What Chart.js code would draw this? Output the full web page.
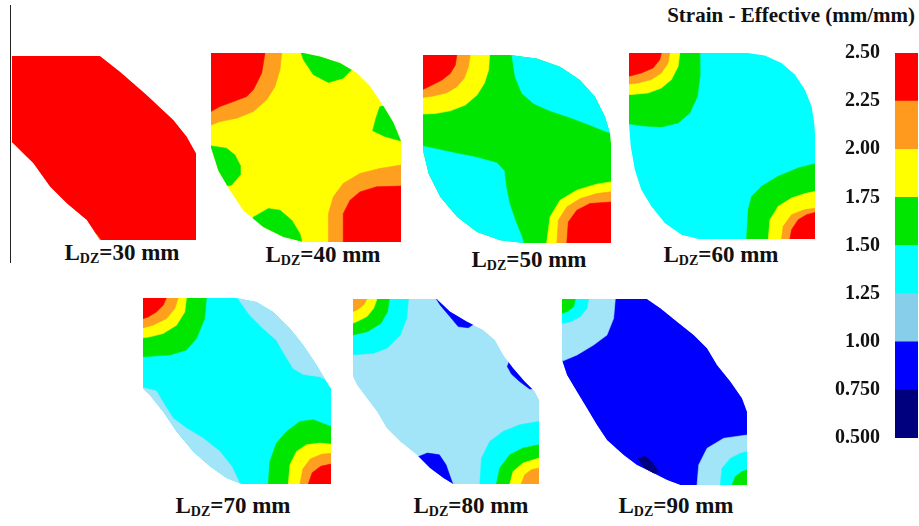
<!DOCTYPE html>
<html>
<head>
<meta charset="utf-8">
<script src="https://cdn.jsdelivr.net/npm/chart.js@4/dist/chart.umd.min.js"></script>
<style>
  html, body { margin: 0; padding: 0; background: #fff; }
  #wrap { position: relative; width: 919px; height: 526px; overflow: hidden; background: #fff; }
  .panel { position: absolute; }
  .label { position: absolute; width: 200px; text-align: center; white-space: nowrap;
           font: bold 23px "Liberation Serif", "DejaVu Serif", serif; color: #111; line-height: 23px; }
  .label sub { font-size: 14px; vertical-align: -3px; line-height: 0; }
  #title { position: absolute; right: 4px; top: 3px; white-space: nowrap;
           font: bold 21px "Liberation Serif", "DejaVu Serif", serif; color: #111; }
  #frameLine { position: absolute; left: 10px; top: 5px; width: 1px; height: 258px; background: #222; }
  #scaleBox { position: absolute; left: 830px; top: 34px; width: 89px; height: 423px; }
</style>
</head>
<body>
<div id="wrap">
  <div id="frameLine"></div>
  <div id="title">Strain - Effective (mm/mm)</div>
  <div id="scaleBox"><canvas id="scaleBar"></canvas></div>
</div>
<script>
// Contour levels of effective strain (mm/mm) and their band colours
const levelEdges = [0.5, 0.75, 1.0, 1.25, 1.5, 1.75, 2.0, 2.25, 2.5];
const tickLabels = ['0.500', '0.750', '1.00', '1.25', '1.50', '1.75', '2.00', '2.25', '2.50'];
const fieldColors = ['#00007f', '#0000ff', '#a2e4f8', '#00ffff', '#00e600', '#ffff00', '#ff9f1f', '#ff0000'];
const scaleColors = ['#00007f', '#0000ff', '#87ceeb', '#00ffff', '#00e600', '#ffff00', '#ff9a1e', '#ff0000'];
const NAVY = 0, BLUE = 1, LBLUE = 2, CYAN = 3, GREEN = 4, YELLOW = 5, ORANGE = 6, RED = 7;

// Dead-zone lengths of the seven sections
const ldzValues = [30, 40, 50, 60, 70, 80, 90];

// Section outlines and contour bands, [u, v] in the unit square (v measured downward)
// L_DZ = 30 mm
const outline30 = [[0,0],[0.478,0],[0.587,0.085],[0.732,0.212],[0.877,0.348],[0.949,0.438],[1,0.529],[1,1],[0.478,1],[0.406,0.891],[0.297,0.80],[0.207,0.71],[0.116,0.583],[0.007,0.475],[0,0.47]];
const orangeEdge30 = [[0.43,0.95],[0.46,0.97],[0.49,1.01],[0.44,1.01]];

// L_DZ = 40 mm
const outline40 = [[0,0],[0.486,0],[0.574,0.018],[0.679,0.053],[0.767,0.105],[0.837,0.175],[0.907,0.281],[0.96,0.368],[1,0.465],[1,1],[0.486,1],[0.381,0.974],[0.275,0.921],[0.17,0.833],[0.1,0.728],[0.039,0.623],[0,0.5]];
const greenTop40 = [[0.468,-0.02],[0.486,0.035],[0.539,0.115],[0.618,0.156],[0.696,0.133],[0.74,0.088],[0.767,-0.035]];
const greenRight40 = [[0.889,0.283],[0.868,0.345],[0.851,0.411],[0.916,0.442],[0.995,0.464],[1.03,0.464],[1.03,0.248]];
const greenLeft40 = [[-0.03,0.487],[0.082,0.504],[0.126,0.54],[0.153,0.593],[0.153,0.646],[0.109,0.699],[0.047,0.708],[-0.03,0.708]];
const greenBottom40 = [[0.22,0.87],[0.302,0.823],[0.363,0.832],[0.425,0.885],[0.468,0.956],[0.486,1.03],[0.22,1.03]];
const orangeTL40 = [[0,0],[0.372,0],[0.363,0.088],[0.337,0.177],[0.293,0.248],[0.223,0.31],[0.135,0.345],[0.047,0.363],[0,0.381]];
const redTL40 = [[0,0],[0.284,0],[0.267,0.106],[0.223,0.195],[0.188,0.23],[0.118,0.257],[0.047,0.283],[0,0.31]];
const orangeBR40 = [[1,1],[0.618,1],[0.618,0.85],[0.644,0.761],[0.696,0.69],[0.784,0.637],[0.889,0.611],[1,0.593]];
const redBR40 = [[1,1],[0.696,1],[0.696,0.85],[0.732,0.779],[0.784,0.735],[0.872,0.708],[1,0.704]];

// L_DZ = 50 mm
const outline50 = [[0,0],[0.464,0],[0.605,0.018],[0.729,0.062],[0.835,0.133],[0.915,0.222],[0.968,0.329],[0.995,0.417],[1,0.471],[1,1],[0.535,1],[0.411,0.986],[0.287,0.941],[0.181,0.861],[0.092,0.755],[0.03,0.631],[0.004,0.524],[0,0.488]];
const cyanTR50 = [[0.464,-0.03],[0.473,0],[0.49,0.115],[0.526,0.204],[0.588,0.258],[0.676,0.297],[0.782,0.332],[0.888,0.373],[1,0.417],[1.03,0.417],[1.03,-0.03]];
const greenDot50 = [[0.855,0.14],[0.885,0.135],[0.89,0.165],[0.87,0.165]];
const cyanBL50 = [[-0.03,0.485],[0,0.485],[0.163,0.52],[0.287,0.545],[0.393,0.574],[0.432,0.616],[0.442,0.702],[0.46,0.79],[0.49,0.879],[0.526,0.968],[0.543,1.03],[-0.03,1.03]];
const yellowTL50 = [[0,0],[0.354,0],[0.349,0.08],[0.326,0.151],[0.287,0.213],[0.225,0.266],[0.145,0.297],[0.065,0.311],[0,0.314]];
const orangeTL50 = [[0,0],[0.251,0],[0.242,0.062],[0.219,0.124],[0.18,0.169],[0.127,0.201],[0.057,0.218],[0,0.226]];
const redTL50 = [[0,0],[0.18,0],[0.172,0.053],[0.145,0.098],[0.101,0.133],[0.048,0.16],[0,0.183]];
const yellowBR50 = [[1,1],[0.658,1],[0.676,0.861],[0.729,0.773],[0.818,0.719],[0.924,0.687],[1,0.675]];
const orangeBR50 = [[1,1],[0.712,1],[0.72,0.879],[0.765,0.808],[0.835,0.764],[0.924,0.737],[1,0.728]];
const redBR50 = [[1,1],[0.765,1],[0.773,0.888],[0.818,0.826],[0.888,0.79],[1,0.782]];

// L_DZ = 60 mm
const outline60 = [[0,0],[0.641,0],[0.731,0.014],[0.82,0.054],[0.892,0.116],[0.946,0.197],[0.982,0.287],[0.996,0.376],[1,0.43],[1,1],[0.372,1],[0.282,0.977],[0.192,0.914],[0.12,0.824],[0.066,0.735],[0.031,0.627],[0.009,0.502],[0,0.385]];
const greenTL60 = [[0,0],[0.377,0],[0.381,0.125],[0.368,0.233],[0.327,0.323],[0.264,0.376],[0.174,0.398],[0.066,0.391],[0,0.38]];
const yellowTL60 = [[0,0],[0.273,0],[0.264,0.072],[0.228,0.143],[0.174,0.188],[0.102,0.215],[0,0.224]];
const orangeTL60 = [[0,0],[0.219,0],[0.21,0.054],[0.174,0.108],[0.12,0.143],[0.048,0.161],[0,0.167]];
const redTL60 = [[0,0],[0.174,0],[0.165,0.036],[0.129,0.081],[0.066,0.108],[0,0.125]];
const greenBR60 = [[1,1],[0.632,1],[0.641,0.842],[0.659,0.771],[0.713,0.717],[0.802,0.663],[0.91,0.618],[1,0.595]];
const yellowBR60 = [[1,1],[0.749,1],[0.758,0.896],[0.803,0.824],[0.874,0.78],[0.946,0.756],[1,0.744]];
const orangeBR60 = [[1,1],[0.82,1],[0.829,0.932],[0.874,0.869],[0.946,0.842],[1,0.835]];
const redBR60 = [[1,1],[0.865,1],[0.874,0.95],[0.91,0.896],[0.955,0.869],[1,0.857]];

// L_DZ = 70 mm
const outline70 = [[0,0],[0.497,0],[0.604,0.021],[0.693,0.075],[0.782,0.164],[0.853,0.254],[0.924,0.361],[0.977,0.45],[1,0.486],[1,1],[0.524,1],[0.444,0.968],[0.355,0.905],[0.266,0.825],[0.178,0.718],[0.107,0.611],[0.036,0.521],[0,0.486]];
const lightTR70 = [[0.497,-0.03],[0.506,0.004],[0.568,0.093],[0.639,0.164],[0.71,0.227],[0.755,0.307],[0.799,0.379],[0.853,0.411],[0.941,0.423],[1,0.454],[1.03,0.454],[1.03,-0.03]];
const lightBL70 = [[-0.03,0.477],[0,0.482],[0.071,0.5],[0.115,0.575],[0.16,0.646],[0.231,0.7],[0.32,0.754],[0.409,0.825],[0.471,0.905],[0.506,0.977],[0.524,1.03],[-0.03,1.03]];
const greenTL70 = [[0,0],[0.337,0],[0.328,0.111],[0.284,0.218],[0.231,0.279],[0.142,0.307],[0.071,0.311],[0,0.316]];
const yellowTL70 = [[0,0],[0.231,0],[0.222,0.075],[0.178,0.146],[0.107,0.191],[0.036,0.209],[0,0.214]];
const orangeTL70 = [[0,0],[0.187,0],[0.169,0.057],[0.124,0.111],[0.053,0.146],[0,0.161]];
const redTL70 = [[0,0],[0.124,0],[0.107,0.039],[0.071,0.075],[0.027,0.102],[0,0.111]];
const greenBR70 = [[1,1],[0.666,1],[0.675,0.879],[0.71,0.78],[0.764,0.718],[0.835,0.664],[0.906,0.655],[1,0.691]];
const yellowBR70 = [[1,1],[0.773,1],[0.782,0.896],[0.817,0.825],[0.87,0.789],[0.941,0.78],[1,0.786]];
const orangeBR70 = [[1,1],[0.835,1],[0.85,0.92],[0.89,0.865],[0.95,0.84],[1,0.835]];
const redBR70 = [[1,1],[0.879,1],[0.9,0.94],[0.945,0.905],[1,0.893]];

// L_DZ = 80 mm
const outline80 = [[0,0],[0.45,0],[0.521,0.068],[0.611,0.122],[0.7,0.167],[0.763,0.221],[0.807,0.302],[0.861,0.374],[0.923,0.446],[0.977,0.5],[1,0.545],[1,1],[0.539,1],[0.486,0.968],[0.414,0.914],[0.343,0.842],[0.254,0.77],[0.182,0.698],[0.129,0.608],[0.075,0.536],[0.021,0.464],[0,0.419]];
const cyanTL80 = [[0,0],[0.298,0],[0.289,0.104],[0.254,0.194],[0.182,0.266],[0.111,0.293],[0,0.302]];
const greenTL80 = [[0,0],[0.195,0],[0.186,0.068],[0.15,0.131],[0.079,0.176],[0,0.194]];
const yellowTL80 = [[0,0],[0.129,0],[0.111,0.05],[0.075,0.095],[0.021,0.122],[0,0.131]];
const orangeTL80 = [[0,0],[0.075,0],[0.057,0.032],[0.021,0.059],[0,0.068]];
const cyanBR80 = [[1,1],[0.682,1],[0.691,0.86],[0.736,0.77],[0.807,0.716],[0.896,0.68],[1,0.662]];
const greenBR80 = [[1,1],[0.771,1],[0.789,0.914],[0.843,0.842],[0.914,0.806],[1,0.788]];
const yellowBR80 = [[1,1],[0.843,1],[0.861,0.932],[0.914,0.887],[1,0.86]];
const orangeBR80 = [[1,1],[0.904,1],[0.923,0.95],[0.959,0.923],[1,0.914]];
const blueTop80 = [[0.441,-0.013],[0.468,0.032],[0.521,0.095],[0.566,0.149],[0.62,0.155],[0.655,0.131],[0.682,0.086],[0.468,-0.04]];
const blueRight80 = [[0.843,0.329],[0.83,0.365],[0.852,0.406],[0.896,0.446],[0.95,0.486],[1.004,0.482],[0.932,0.356]];
const blueBottom80 = [[0.343,0.856],[0.4,0.833],[0.464,0.842],[0.5,0.896],[0.525,0.968],[0.548,1.03],[0.468,1.03],[0.289,0.914]];

// L_DZ = 90 mm
const outline90 = [[0,0],[0.459,0],[0.532,0.05],[0.622,0.122],[0.712,0.194],[0.784,0.265],[0.838,0.355],[0.91,0.444],[0.973,0.534],[1,0.606],[1,1],[0.64,1],[0.568,0.973],[0.477,0.928],[0.405,0.892],[0.333,0.839],[0.243,0.758],[0.189,0.677],[0.135,0.588],[0.081,0.498],[0.027,0.409],[0,0.328]];
const lightTL90 = [[0,0],[0.288,0],[0.279,0.104],[0.243,0.194],[0.171,0.247],[0.081,0.301],[0,0.335]];
const cyanTL90 = [[0,0],[0.144,0],[0.135,0.05],[0.099,0.095],[0.045,0.122],[0,0.131]];
const greenTL90 = [[0,0],[0.072,0],[0.063,0.041],[0.027,0.068],[0,0.077]];
const lightBR90 = [[1,1],[0.73,1],[0.739,0.892],[0.784,0.803],[0.874,0.749],[1,0.731]];
const cyanBR90 = [[1,1],[0.856,1],[0.865,0.91],[0.91,0.857],[0.964,0.83],[1,0.821]];
const greenBR90 = [[1,1],[0.919,1],[0.937,0.955],[0.973,0.928],[1,0.919]];
const navy90 = [[0.409,0.857],[0.45,0.846],[0.486,0.876],[0.523,0.93],[0.495,0.939],[0.441,0.903]];

// Each section: screen box and its bands, drawn bottom-up (first entry is the outline)
const sections = [
  { ldz: 30, box: [12, 56, 184, 184], label: [122, 241],
    bands: [[RED, outline30], [ORANGE, orangeEdge30]] },
  { ldz: 40, box: [211, 53, 190, 189], label: [323, 243],
    bands: [[YELLOW, outline40], [GREEN, greenTop40], [GREEN, greenRight40], [GREEN, greenLeft40], [GREEN, greenBottom40],
            [ORANGE, orangeTL40], [RED, redTL40], [ORANGE, orangeBR40], [RED, redBR40]] },
  { ldz: 50, box: [423, 55, 188, 188], label: [529, 248],
    bands: [[GREEN, outline50], [CYAN, cyanTR50], [GREEN, greenDot50], [CYAN, cyanBL50],
            [YELLOW, yellowTL50], [ORANGE, orangeTL50], [RED, redTL50], [YELLOW, yellowBR50], [ORANGE, orangeBR50], [RED, redBR50]] },
  { ldz: 60, box: [629, 53, 186, 186], label: [721, 243],
    bands: [[CYAN, outline60], [GREEN, greenTL60], [YELLOW, yellowTL60], [ORANGE, orangeTL60], [RED, redTL60],
            [GREEN, greenBR60], [YELLOW, yellowBR60], [ORANGE, orangeBR60], [RED, redBR60]] },
  { ldz: 70, box: [143, 298, 188, 186], label: [233, 494],
    bands: [[CYAN, outline70], [LBLUE, lightTR70], [LBLUE, lightBL70], [GREEN, greenTL70], [YELLOW, yellowTL70], [ORANGE, orangeTL70], [RED, redTL70],
            [GREEN, greenBR70], [YELLOW, yellowBR70], [ORANGE, orangeBR70], [RED, redBR70]] },
  { ldz: 80, box: [353, 299, 186, 185], label: [471, 494],
    bands: [[LBLUE, outline80], [CYAN, cyanTL80], [GREEN, greenTL80], [YELLOW, yellowTL80], [ORANGE, orangeTL80],
            [CYAN, cyanBR80], [GREEN, greenBR80], [YELLOW, yellowBR80], [ORANGE, orangeBR80],
            [BLUE, blueTop80], [BLUE, blueRight80], [BLUE, blueBottom80]] },
  { ldz: 90, box: [562, 299, 185, 186], label: [676, 494],
    bands: [[BLUE, outline90], [LBLUE, lightTL90], [CYAN, cyanTL90], [GREEN, greenTL90],
            [LBLUE, lightBR90], [CYAN, cyanBR90], [GREEN, greenBR90], [NAVY, navy90]] }
];

// Keep every band inside the section outline (dataset 0)
const clipToOutline = {
  id: 'clipToOutline',
  beforeDatasetsDraw(chart) {
    const pts = chart.getDatasetMeta(0).data;
    const ctx = chart.ctx;
    ctx.save();
    ctx.beginPath();
    pts.forEach((p, i) => (i ? ctx.lineTo(p.x, p.y) : ctx.moveTo(p.x, p.y)));
    ctx.closePath();
    ctx.clip();
  },
  afterDatasetsDraw(chart) { chart.ctx.restore(); }
};

const wrap = document.getElementById('wrap');

sections.forEach((sec, si) => {
  const [left, top, w, h] = sec.box;
  const holder = document.createElement('div');
  holder.className = 'panel';
  holder.style.cssText = `left:${left}px;top:${top}px;width:${w}px;height:${h}px;`;
  const canvas = document.createElement('canvas');
  holder.appendChild(canvas);
  wrap.appendChild(holder);

  const n = sec.bands.length;
  const datasets = sec.bands.map(([level, pts], i) => ({
    data: pts.map(([u, v]) => ({ x: u, y: v })),
    showLine: true,
    fill: 'shape',
    backgroundColor: fieldColors[level],
    borderColor: fieldColors[level],
    borderWidth: 0.6,
    pointRadius: 0,
    pointHoverRadius: 0,
    tension: 0,
    order: n - i
  }));

  new Chart(canvas, {
    type: 'scatter',
    data: { datasets },
    options: {
      responsive: true,
      maintainAspectRatio: false,
      animation: false,
      events: [],
      layout: { padding: 0 },
      scales: {
        x: { type: 'linear', min: 0, max: 1, display: false },
        y: { type: 'linear', min: 0, max: 1, reverse: true, display: false }
      },
      plugins: { legend: { display: false }, tooltip: { enabled: false } }
    },
    plugins: [clipToOutline]
  });

  const lab = document.createElement('div');
  lab.className = 'label';
  lab.style.left = (sec.label[0] - 100) + 'px';
  lab.style.top = sec.label[1] + 'px';
  lab.innerHTML = `L<sub>DZ</sub>=${ldzValues[si]} mm`;
  wrap.appendChild(lab);
});

// Colour scale: one floating bar segment per contour band
new Chart(document.getElementById('scaleBar'), {
  type: 'bar',
  data: {
    labels: ['strain'],
    datasets: scaleColors.map((c, i) => ({
      data: [[levelEdges[i], levelEdges[i + 1]]],
      backgroundColor: c,
      borderWidth: 0,
      grouped: false,
      barPercentage: 1,
      categoryPercentage: 1
    }))
  },
  options: {
    responsive: true,
    maintainAspectRatio: false,
    animation: false,
    events: [],
    layout: { padding: { top: 0, bottom: 0, left: 0, right: 1 } },
    scales: {
      x: { display: false },
      y: {
        min: levelEdges[0],
        max: levelEdges[levelEdges.length - 1],
        position: 'left',
        afterBuildTicks(scale) { scale.ticks = levelEdges.map(v => ({ value: v })); },
        afterFit(scale) { scale.width = 65; },
        grid: { display: false },
        border: { display: false },
        ticks: {
          padding: 7,
          color: '#111',
          font: { family: '"Liberation Serif", serif', weight: 'bold', size: 20 },
          callback: (v) => tickLabels[levelEdges.indexOf(v)]
        }
      }
    },
    plugins: { legend: { display: false }, tooltip: { enabled: false } }
  }
});
</script>
</body>
</html>
